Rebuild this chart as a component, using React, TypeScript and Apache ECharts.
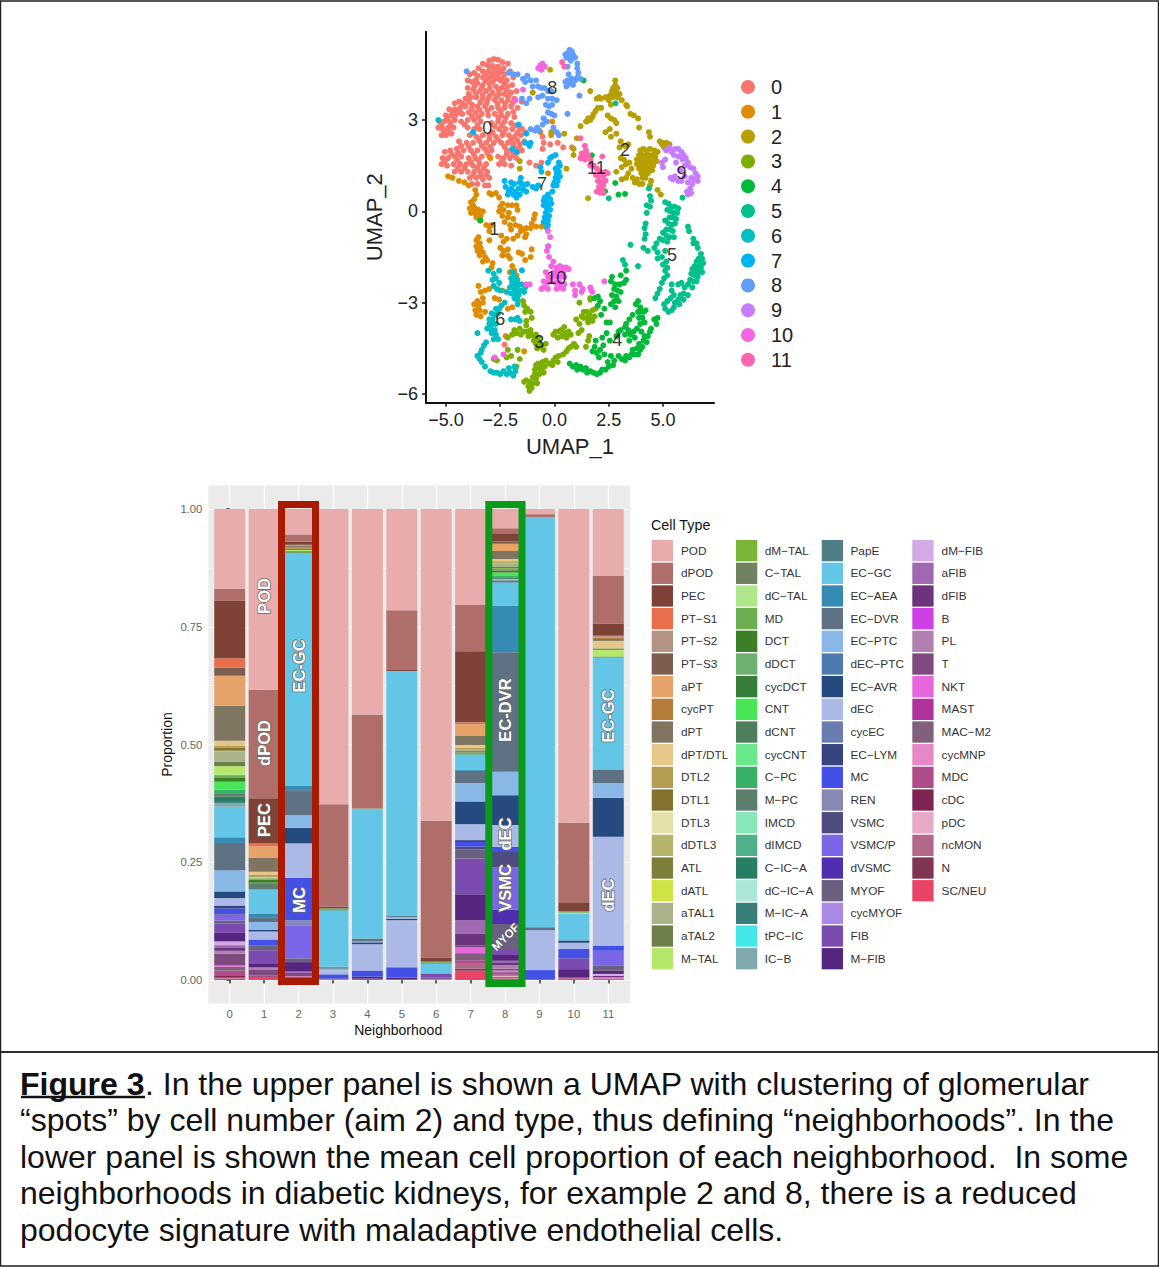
import React, { useEffect, useRef } from "react";
import * as echarts from "echarts";

const FONT = "Liberation Sans";

// ---------- UMAP clusters ----------
const clusterNames = ["0", "1", "2", "3", "4", "5", "6", "7", "8", "9", "10", "11"];
const clusterColors = ["#F8766D", "#DE8C00", "#B79F00", "#7CAE00", "#00BA38", "#00C08B", "#00BFC4", "#00B4F0", "#619CFF", "#C77CFF", "#F564E3", "#FF64B0"];

const c0 = [[-3.0,4.95],[-2.8,5.0],[-2.6,4.98],[-2.4,4.9],[-3.3,4.85],[-3.1,4.8],[-2.85,4.78],[-2.6,4.75],[-2.35,4.7],[-2.15,4.85],[-3.5,4.7],[-3.3,4.6],[-3.05,4.6],[-2.8,4.55],[-2.55,4.55],[-2.3,4.5],[-2.05,4.6],[-1.9,4.4],[-3.9,4.5],[-3.7,4.55],[-3.55,4.45],[-3.3,4.4],[-3.05,4.38],[-2.75,4.35],[-2.5,4.3],[-2.2,4.3],[-4.0,4.3],[-3.8,4.25],[-3.55,4.2],[-3.3,4.15],[-3.0,4.2],[-2.7,4.1],[-2.45,4.05],[-2.15,4.1],[-1.95,4.15],[-4.0,4.05],[-3.75,4.0],[-3.45,3.95],[-3.15,3.95],[-2.85,3.9],[-2.55,3.85],[-2.3,3.85],[-2.0,3.9],[-1.75,3.95],[-4.6,3.55],[-4.4,3.6],[-4.1,3.7],[-3.85,3.75],[-3.6,3.75],[-3.3,3.7],[-3.05,3.7],[-2.75,3.65],[-2.45,3.65],[-2.15,3.65],[-1.85,3.7],[-1.5,3.6],[-4.85,3.35],[-4.6,3.35],[-4.35,3.4],[-4.1,3.45],[-3.8,3.5],[-3.55,3.45],[-3.2,3.45],[-2.9,3.4],[-2.6,3.4],[-2.3,3.4],[-2.0,3.45],[-1.7,3.4],[-5.0,3.15],[-4.75,3.15],[-4.5,3.2],[-4.25,3.2],[-3.95,3.25],[-3.65,3.25],[-3.35,3.2],[-3.05,3.15],[-2.75,3.2],[-2.45,3.15],[-2.15,3.2],[-1.85,3.1],[-5.3,2.95],[-5.1,2.95],[-4.85,2.95],[-4.6,3.0],[-4.3,2.95],[-4.0,3.0],[-3.7,3.0],[-3.4,2.95],[-2.9,2.9],[-2.6,2.95],[-2.3,2.95],[-2.0,2.9],[-5.35,2.75],[-5.15,2.7],[-4.9,2.75],[-4.65,2.75],[-4.0,2.75],[-3.7,2.7],[-3.45,2.7],[-2.55,2.7],[-2.25,2.7],[-1.95,2.7],[-1.6,2.7],[-5.2,2.5],[-5.0,2.5],[-4.75,2.55],[-3.9,2.5],[-3.6,2.45],[-3.3,2.5],[-3.0,2.5],[-2.7,2.45],[-2.4,2.5],[-2.1,2.5],[-1.85,2.45],[-1.55,2.5],[-1.35,2.6],[-4.4,2.3],[-4.05,2.25],[-3.75,2.25],[-3.45,2.3],[-3.15,2.25],[-2.8,2.25],[-2.45,2.25],[-2.15,2.25],[-1.9,2.2],[-1.6,2.2],[-1.4,2.3],[-4.8,2.0],[-4.5,2.05],[-4.2,2.0],[-3.85,2.0],[-3.55,2.0],[-3.2,2.05],[-2.9,2.0],[-2.2,2.0],[-1.95,1.95],[-1.7,1.95],[-1.5,2.0],[-5.05,1.95],[-5.15,1.75],[-4.9,1.75],[-4.6,1.8],[-4.3,1.8],[-3.95,1.75],[-3.65,1.75],[-3.35,1.8],[-3.0,1.8],[-2.6,1.8],[-2.35,1.75],[-2.05,1.75],[-1.75,1.75],[-5.2,1.55],[-4.95,1.5],[-4.65,1.55],[-4.35,1.55],[-4.05,1.55],[-3.75,1.5],[-3.45,1.55],[-3.15,1.55],[-2.55,1.55],[-2.3,1.55],[-2.0,1.5],[-4.6,1.3],[-4.3,1.3],[-4.0,1.3],[-3.7,1.3],[-3.4,1.3],[-3.1,1.3],[-3.9,1.1],[-3.6,1.1],[-3.3,1.05],[-3.0,1.1],[-3.55,0.9],[-3.2,0.85],[-3.05,0.85],[-3.8,0.9],[-1.15,1.6],[-0.85,1.5],[-0.6,1.6],[-0.5,2.25],[-0.55,2.05],[-0.2,2.2],[-0.55,2.45],[0.15,2.25],[0.4,2.1],[0.8,2.1],[-2.3,-4.38],
[-2.95,4.7],[-2.7,4.65],[-2.45,4.62],[-3.2,4.5],[-2.92,4.45],[-2.62,4.42],[-2.38,4.38],[-3.62,4.32],[-3.18,4.28],[-2.85,4.25],[-2.32,4.18],[-3.68,4.1],[-3.35,4.05],[-2.98,4.05],[-2.58,3.98],[-2.22,3.98],[-3.95,3.85],[-3.62,3.87],[-3.3,3.82],[-2.98,3.8],[-2.68,3.77],[-2.12,3.78],[-4.25,3.55],[-3.95,3.6],[-3.42,3.58],[-3.12,3.55],[-2.62,3.52],[-2.28,3.53],[-1.92,3.57],[-4.7,3.25],[-4.38,3.3],[-3.82,3.37],[-3.45,3.33],[-3.08,3.3],[-2.48,3.28],[-1.9,3.27],[-4.95,3.05],[-4.62,3.08],[-3.8,3.12],[-3.5,3.1],[-2.58,3.07],[-2.25,3.07],[-5.2,2.83],[-4.78,2.85],[-4.15,2.85],[-3.55,2.83],[-2.75,2.8],[-2.42,2.82],[-1.8,2.82],[-5.08,2.6],[-4.88,2.63],[-3.75,2.58],[-2.85,2.6],[-2.35,2.6],[-1.72,2.58],[-1.5,2.72],[-3.5,2.38],[-3.0,2.38],[-2.6,2.35],[-2.0,2.35],[-1.72,2.32],[-4.3,2.15],[-3.95,2.12],[-3.35,2.15],[-2.95,2.12],[-2.3,2.12],[-1.8,2.08],[-1.6,2.08],[-4.75,1.88],[-4.45,1.92],[-3.72,1.88],[-3.1,1.92],[-2.2,1.88],[-1.88,1.85],[-5.05,1.65],[-4.48,1.68],[-3.85,1.62],[-3.5,1.67],[-2.42,1.65],[-4.45,1.42],[-4.15,1.42],[-3.55,1.42],[-3.25,1.42],[-3.75,1.18],[-3.42,1.18],[-3.15,1.2]];
const c1 = [[-4.9,1.15],[-4.7,1.1],[-4.4,1.0],[-4.15,0.95],[-3.95,0.85],[-3.65,0.7],[-3.6,0.55],[-3.7,0.4],[-3.85,0.3],[-3.75,0.2],[-3.9,0.1],[-3.8,0.05],[-3.65,0.1],[-3.5,0.05],[-3.7,-0.05],[-3.85,-0.05],[-3.55,-0.1],[-3.4,-0.15],[-3.6,-0.2],[-3.3,0],[-3.4,-0.3],[-3.15,-0.45],[-3.0,0.6],[-2.9,0.55],[-2.7,0.6],[-2.55,0.45],[-2.4,0.25],[-2.5,0.15],[-2.35,0.05],[-2.15,0.2],[-1.95,0.2],[-1.75,0.2],[-1.7,0.05],[-2.55,0],[-2.1,-0.05],[-2.4,-0.15],[-2.15,-0.2],[-1.9,-0.25],[-2.3,-0.35],[-2.05,-0.45],[-1.8,-0.45],[-1.6,-0.5],[-2.0,-0.6],[-0.9,-0.1],[-0.95,-0.25],[-1.05,-0.4],[-0.85,-0.5],[-1.1,-0.55],[-0.6,-0.5],[-0.5,-0.45],[-1.3,-0.55],[-1.45,-0.6],[-1.55,-0.65],[-1.3,-0.75],[-1.7,-0.8],[-1.35,-0.85],[-3.0,-0.5],[-3.0,-0.65],[-2.9,-0.45],[-2.2,-0.9],[-2.45,-0.8],[-2.35,-1.0],[-1.9,-0.9],[-3.5,-0.85],[-3.6,-0.95],[-3.45,-1.05],[-3.6,-1.15],[-3.4,-1.2],[-3.55,-1.3],[-3.3,-1.35],[-3.45,-1.45],[-3.2,-1.5],[-3.1,-1.6],[-3.3,-1.65],[-2.85,-1.7],[-2.9,-1.85],[-3.0,-0.95],[-2.5,-1.2],[-2.35,-1.3],[-2.15,-1.25],[-2.4,-1.45],[-2.15,-1.45],[-2.05,-1.55],[-1.65,-1.35],[-1.5,-1.4],[-1.05,-1.25],[-1.1,-1.5],[-1.35,-1.6],[-1.95,-1.8],[-1.85,-1.95],[-2.05,-2.0],[-1.75,-2.1],[-1.7,-2.25],[-3.5,-2.45],[-3.4,-2.65],[-3.2,-2.6],[-3.0,-2.55],[-3.3,-2.85],[-3.55,-2.95],[-3.7,-3.05],[-3.5,-3.1],[-3.65,-3.25],[-3.45,-3.25],[-3.6,-3.4],[-3.4,-3.45],[-3.2,-3.3],[-3.3,-3.0],[-2.55,-2.9],[-2.4,-2.6],[-1.95,-3.15],[-2.15,-3.2],[-2.75,-2.85],[-2.25,-4.1],[-1.4,-4.6],[0.7,5.03],[-0.15,2.5],[-0.1,2.95],[-0.3,1.25],[-2.95,1.75],[-0.65,2.6]];
const c2 = [[2.8,4.3],[2.8,4.15],[2.7,4.05],[2.9,4.05],[2.75,3.9],[2.65,3.95],[2.85,3.9],[3.0,3.85],[2.55,3.8],[2.7,3.75],[2.9,3.75],[2.35,3.75],[2.15,3.7],[2.05,3.75],[1.95,3.7],[2.5,3.65],[3.1,3.65],[3.3,3.5],[3.35,3.45],[2.6,3.5],[1.65,3.95],[2.15,3.4],[2.0,3.4],[1.9,3.3],[1.8,3.2],[1.75,3.1],[1.6,3.05],[1.65,3.0],[1.5,2.95],[1.55,3.05],[1.2,2.8],[1.45,2.95],[0.45,2.55],[1.03,2.4],[0.88,2.05],[0.88,1.85],[0.55,1.4],[3.5,3.2],[3.85,3.05],[3.65,3.15],[3.9,2.75],[4.35,2.6],[4.4,2.45],[2.45,3.15],[2.6,3.05],[2.75,3.0],[2.85,2.9],[2.55,2.7],[2.35,2.6],[2.6,2.45],[3.05,2.3],[2.85,2.55],[3.25,2.15],[3.4,2.2],[3.0,2.1],[4.85,2.3],[5.0,2.25],[5.15,2.25],[5.3,2.2],[5.05,2.1],[4.95,2.2],[3.95,2.0],[4.1,2.05],[4.25,2.0],[4.4,2.05],[4.6,2.0],[4.75,1.95],[3.9,1.85],[4.05,1.85],[4.2,1.85],[4.35,1.85],[4.5,1.85],[4.65,1.8],[3.8,1.7],[3.95,1.7],[4.1,1.7],[4.25,1.7],[4.4,1.7],[4.55,1.65],[4.7,1.65],[3.8,1.55],[3.95,1.55],[4.1,1.55],[4.25,1.55],[4.4,1.55],[4.55,1.5],[3.9,1.4],[4.05,1.4],[4.2,1.4],[4.35,1.4],[4.5,1.35],[4.0,1.25],[4.15,1.25],[4.3,1.25],[4.05,1.1],[4.2,1.1],[2.85,1.3],[3.1,1.45],[3.05,1.75],[3.2,1.7],[3.3,1.55],[3.45,1.6],[3.55,1.4],[3.4,1.25],[3.1,1.05],[3.3,1.1],[3.6,1.1],[3.8,1.05],[3.9,0.9],[4.05,0.9],[4.4,0.85],[4.45,1.0],[3.7,0.95],[4.75,0.7],[4.9,0.55],[1.55,0.43],[-0.15,2.6],[-1.0,3.9],[-0.2,4.65],[-1.6,1.4],[-1.6,1.65]];
const c3 = [[-1.45,-2.95],[-1.4,-3.1],[-1.25,-3.2],[-1.35,-3.3],[-1.1,-3.3],[-1.05,-3.5],[-1.3,-3.6],[-2.15,-4.15],[-1.95,-4.05],[-1.75,-4.0],[-1.85,-3.9],[-1.6,-3.85],[-1.55,-4.05],[-1.4,-3.95],[-1.3,-3.75],[-1.25,-3.95],[-1.1,-3.9],[-1.05,-4.05],[-1.2,-4.1],[-0.95,-4.1],[-0.85,-4.05],[-0.75,-4.15],[-0.95,-4.25],[-0.7,-4.3],[-0.85,-4.35],[-0.6,-4.45],[-0.4,-4.35],[-0.8,-4.5],[-0.5,-4.55],[0.3,-3.9],[0.45,-3.8],[0.2,-3.95],[0.05,-3.95],[-0.05,-4.05],[0.5,-4.0],[0.65,-3.95],[0.35,-4.1],[0.55,-4.15],[0.15,-4.15],[0.75,-4.05],[0.9,-4.35],[0.75,-4.45],[0.65,-4.5],[1.0,-4.45],[0.55,-4.6],[0.4,-4.7],[0.2,-4.75],[0.05,-4.8],[-0.05,-4.9],[0.15,-4.95],[-0.1,-5.05],[-0.25,-5.0],[-0.4,-4.9],[-0.45,-5.1],[-0.55,-4.95],[-0.65,-5.05],[-0.75,-5.0],[-0.85,-5.05],[-0.6,-5.2],[-0.75,-5.15],[-0.9,-5.2],[-0.5,-5.3],[-0.7,-5.35],[-0.9,-5.35],[-1.0,-5.45],[-0.85,-5.5],[-0.8,-5.65],[-1.0,-5.65],[-1.15,-5.6],[-1.3,-5.55],[-1.05,-5.8],[-1.2,-5.75],[-1.4,-5.6],[-1.15,-5.9],[1.15,-3.7],[1.0,-3.55],[1.25,-3.45],[1.35,-3.3],[1.5,-3.3],[1.6,-3.4],[1.35,-3.5],[1.5,-3.5],[1.65,-3.55],[1.75,-3.6],[1.55,-3.65],[1.75,-3.25],[1.9,-3.2],[1.85,-3.45],[1.65,-2.9],[1.65,-2.85],[1.15,-3.0],[1.25,-3.9],[1.1,-4.0],[1.6,-4.1],[1.55,-4.25],[1.45,-4.45],[-2.2,-4.8],[-2.0,-4.75],[-2.15,-4.55],[-1.7,-4.55],[-1.6,-4.85],[-2.8,-4.85],[-2.65,-4.9],[-1.75,-5.1]];
const c4 = [[0.7,-5.0],[0.85,-5.1],[1.0,-5.05],[1.05,-5.2],[1.2,-5.1],[1.3,-5.2],[1.45,-5.15],[1.5,-5.3],[1.65,-5.25],[1.8,-5.3],[1.95,-5.35],[2.1,-5.3],[2.2,-5.2],[2.35,-5.2],[2.5,-5.1],[2.45,-4.95],[2.7,-5.05],[2.75,-4.9],[2.6,-4.75],[2.95,-4.75],[3.1,-4.85],[3.25,-4.9],[3.3,-4.75],[3.45,-4.8],[3.55,-4.7],[3.7,-4.7],[3.85,-4.7],[3.6,-4.55],[3.8,-4.5],[3.95,-4.55],[4.05,-4.45],[3.9,-4.35],[4.1,-4.25],[4.25,-4.3],[4.15,-4.1],[4.3,-4.1],[4.4,-3.95],[4.45,-3.85],[4.6,-3.55],[4.75,-3.5],[4.7,-3.7],[1.75,-4.6],[1.85,-4.45],[1.9,-4.25],[1.95,-4.65],[2.1,-4.55],[2.05,-4.8],[2.25,-4.4],[2.2,-4.15],[2.4,-4.0],[2.55,-4.25],[2.3,-4.7],[2.85,-4.1],[2.95,-3.95],[3.05,-3.9],[3.25,-3.8],[3.4,-3.9],[3.25,-4.05],[3.5,-4.05],[3.65,-3.95],[3.45,-4.25],[3.7,-4.15],[3.8,-3.85],[4.0,-3.95],[3.95,-3.7],[4.15,-3.65],[4.05,-3.5],[3.9,-3.5],[3.85,-3.3],[3.95,-3.15],[3.75,-3.05],[3.85,-2.95],[3.95,-3.3],[4.1,-3.3],[4.2,-3.25],[3.6,-3.4],[3.45,-3.55],[3.3,-3.7],[2.4,-3.65],[2.55,-3.65],[2.3,-3.2],[2.15,-3.4],[2.6,-2.3],[2.8,-2.4],[3.0,-2.4],[3.2,-2.35],[3.3,-2.25],[2.75,-2.55],[2.9,-2.6],[3.05,-2.65],[2.65,-2.75],[2.85,-2.8],[2.95,-2.95],[2.75,-2.95],[2.6,-3.05],[2.8,-3.15],[2.65,-2.15],[3.05,-2.1],[3.3,-1.95],[2.0,-2.8],[1.85,-2.85],[2.1,-2.95],[2.0,-3.1],[1.34,4.3],[2.8,0.93],[2.95,0.55],[3.25,0.57],[1.72,1.84],[2.33,0.66],[-3.43,-0.3]];
const c5 = [[4.35,0.75],[4.4,0.5],[4.45,0.35],[4.25,0.2],[4.4,0.15],[4.25,-0.05],[4.2,-0.4],[4.15,-0.55],[4.2,-0.75],[4.15,-0.9],[5.1,0.3],[5.25,0.25],[5.4,0.15],[5.55,0.15],[5.7,0.1],[5.9,0.45],[5.2,0.05],[5.35,0.0],[5.5,-0.05],[5.65,-0.05],[5.3,-0.2],[5.45,-0.2],[5.6,-0.25],[5.1,-0.3],[5.25,-0.4],[5.4,-0.45],[5.55,-0.4],[5.15,-0.6],[5.3,-0.6],[5.45,-0.65],[5.0,-0.7],[5.15,-0.8],[5.3,-0.85],[4.85,-0.9],[5.0,-0.95],[5.5,-0.85],[4.7,-1.05],[5.2,-1.0],[6.15,-0.5],[6.2,-0.65],[6.4,-0.9],[6.55,-1.05],[6.4,-1.05],[6.6,-1.2],[6.75,-1.4],[6.65,-1.55],[6.8,-1.55],[6.55,-1.65],[6.7,-1.7],[6.85,-1.7],[6.45,-1.8],[6.6,-1.85],[6.75,-1.85],[6.35,-1.9],[6.5,-1.95],[6.65,-2.0],[6.8,-2.0],[6.3,-2.05],[6.45,-2.1],[6.6,-2.15],[6.25,-2.25],[6.4,-2.3],[6.55,-2.3],[6.15,-2.4],[6.35,-2.5],[6.0,-2.5],[5.95,-2.7],[6.15,-2.75],[5.8,-2.75],[5.95,-2.9],[5.7,-2.9],[5.75,-3.05],[5.55,-3.0],[5.5,-3.15],[5.4,-3.25],[5.25,-3.3],[5.1,-3.2],[5.2,-2.95],[5.05,-3.05],[5.35,-2.85],[5.5,-2.75],[4.1,-1.2],[4.3,-1.3],[4.6,-1.2],[4.75,-1.35],[4.75,-1.55],[4.95,-1.5],[5.1,-1.3],[5.0,-1.75],[5.15,-1.65],[5.2,-1.85],[5.1,-1.95],[5.2,-2.1],[5.05,-2.2],[4.95,-2.35],[4.85,-2.55],[4.75,-2.7],[4.65,-2.85],[5.4,-2.4],[5.7,-2.4],[5.85,-2.35],[5.4,-2.6],[3.5,-1.1],[3.15,-1.6],[3.25,-1.75],[3.85,-1.8],[2.5,0.43],[2.82,3.55]];
const c6 = [[-2.85,-2.25],[-2.7,-2.2],[-2.55,-2.35],[-2.8,-2.45],[-2.65,-2.55],[-2.5,-2.6],[-1.95,-2.0],[-1.85,-2.1],[-2.0,-2.2],[-1.75,-2.25],[-1.95,-2.35],[-1.8,-2.4],[-1.65,-2.4],[-1.5,-2.4],[-1.35,-2.5],[-2.05,-2.5],[-1.85,-2.55],[-1.7,-2.55],[-1.55,-2.6],[-1.4,-2.65],[-2.2,-2.65],[-2.0,-2.7],[-1.8,-2.7],[-1.65,-2.75],[-1.85,-2.85],[-1.7,-2.9],[-1.7,-3.05],[-2.55,-1.95],[-3.05,-1.95],[-2.8,-2.05],[-2.3,-3.0],[-2.45,-3.1],[-2.55,-3.2],[-2.7,-3.2],[-2.6,-3.35],[-2.75,-3.4],[-2.9,-3.35],[-2.85,-3.55],[-3.0,-3.55],[-3.0,-3.7],[-2.85,-3.7],[-2.7,-3.7],[-3.1,-3.85],[-2.95,-3.85],[-2.75,-3.9],[-2.9,-4.0],[-2.7,-4.05],[-2.8,-4.2],[-2.6,-4.2],[-3.55,-4.0],[-1.7,-3.5],[-1.8,-3.55],[-1.6,-3.6],[-2.0,-3.55],[-3.15,-4.3],[-3.25,-4.4],[-3.35,-4.55],[-3.4,-4.65],[-3.55,-4.75],[-3.45,-4.85],[-3.35,-4.95],[-3.2,-5.1],[-2.95,-5.25],[-2.8,-5.3],[-2.65,-5.3],[-2.5,-5.35],[-2.35,-5.25],[-2.2,-5.35],[-2.05,-5.3],[-1.9,-5.4],[-1.8,-5.25],[-2.1,-5.15],[-1.85,-5.1],[-5.35,3.0]];
const c7 = [[-2.25,0.8],[-2.3,1.0],[-2.15,0.55],[-2.0,0.95],[-2.0,0.75],[-1.9,0.55],[-1.85,0.9],[-1.8,0.65],[-1.75,0.45],[-1.65,0.75],[-1.6,0.55],[-1.55,1.1],[-1.5,0.9],[-1.45,0.7],[-1.4,0.85],[-1.3,0.65],[-1.25,0.9],[-1.6,0.95],[-2.1,0.65],[-1.0,0.8],[-0.85,0.75],[-0.75,0.85],[0.2,1.6],[0.25,1.5],[0.15,1.45],[0.05,1.4],[0.2,1.3],[0.1,1.25],[0.25,1.15],[0.05,1.1],[0.15,1.0],[0.0,0.95],[-0.05,0.85],[0.1,0.85],[-0.1,0.65],[-0.3,0.55],[-0.45,0.45],[-0.5,0.35],[-0.35,0.35],[-0.2,0.4],[-0.3,0.2],[-0.5,0.2],[-0.15,0.25],[-0.35,0.1],[-0.2,0.05],[-0.4,-0.05],[-0.25,-0.15],[-0.3,-0.3],[-0.45,-0.2],[-0.5,-0.35],[-0.3,-0.45],[-0.35,-0.55],[0.05,1.85],[-0.1,1.8],[-0.2,1.75],[-0.3,1.6],[-0.65,1.45],[-0.6,1.3],[-1.35,2.25],[-1.15,2.15],[-1.1,2.25],[-1.95,2.05],[-1.75,1.95],[-3.75,2.6],[-1.3,2.55],[-1.65,2.85],[-1.5,-1.94],[-0.28,-1.15]];
const c8 = [[0.5,5.15],[0.6,5.2],[0.7,5.3],[0.8,5.25],[0.85,5.15],[0.65,5.05],[0.55,5.05],[0.8,5.05],[0.95,5.05],[0.75,4.95],[1.05,4.85],[1.05,4.7],[1.1,4.55],[0.6,4.75],[0.65,4.5],[1.05,4.4],[0.95,4.3],[1.2,4.35],[0.8,4.35],[0.6,4.3],[0.5,4.25],[0.7,4.2],[0.85,4.15],[0.55,4.1],[-2.1,4.55],[-1.9,4.5],[-1.7,4.5],[-1.45,4.35],[-1.25,4.45],[-1.35,4.25],[-1.1,4.3],[-1.0,4.1],[-0.85,4.3],[-0.75,4.1],[-0.6,4.05],[-0.45,4.05],[-0.3,3.95],[-0.15,3.95],[-0.75,3.75],[-0.55,3.8],[-0.3,3.7],[-0.1,3.7],[0.1,3.65],[-0.4,3.5],[-0.25,3.45],[-0.1,3.5],[-0.3,3.25],[-0.15,3.2],[0.0,3.15],[-0.5,3.05],[-0.35,2.95],[-0.55,2.85],[-0.8,2.75],[-0.9,2.65],[-1.1,2.7],[-0.7,2.65],[-0.05,2.75],[0.1,2.6],[0.2,2.5],[-1.5,3.7],[-1.15,3.7],[-1.3,3.55],[0.6,3.2],[1.15,3.8],[-4.05,4.6]];
const c9 = [[5.15,2.0],[5.3,2.1],[5.4,1.95],[5.55,2.05],[5.7,2.05],[5.85,1.95],[5.95,1.85],[5.5,1.85],[5.7,1.8],[5.9,1.7],[6.05,1.75],[6.15,1.6],[6.0,1.5],[6.25,1.45],[6.4,1.4],[6.5,1.25],[6.6,1.15],[6.45,1.05],[6.6,1.0],[6.3,1.1],[6.35,0.9],[6.15,0.95],[6.25,0.75],[6.1,0.65],[6.3,0.6],[6.15,0.55],[4.95,1.6],[5.0,1.45],[5.1,1.7],[5.55,1.15],[5.45,1.05],[5.7,1.0],[5.85,1.0],[6.0,1.15],[5.6,1.6],[5.8,1.35],[5.35,1.1]];
const c10 = [[-0.3,-0.65],[-0.2,-0.85],[-0.3,-1.15],[-0.35,-1.3],[-0.25,-1.5],[-0.05,-1.65],[-0.15,-1.8],[0.1,-1.85],[0.25,-1.8],[0.4,-1.85],[0.55,-1.85],[0.65,-1.9],[0.0,-2.0],[0.2,-1.95],[0.4,-2.0],[-0.4,-2.0],[-0.3,-2.15],[-0.1,-2.15],[0.1,-2.15],[0.3,-2.15],[0.45,-2.15],[-0.5,-2.3],[-0.35,-2.35],[-0.2,-2.3],[0.05,-2.35],[0.25,-2.35],[0.45,-2.4],[-0.5,-2.5],[-0.3,-2.55],[0.1,-2.55],[0.25,-2.5],[0.4,-2.55],[-1.15,-2.4],[-1.3,-2.4],[-0.6,-2.55],[0.85,-2.4],[1.15,-2.4],[0.95,-2.6],[1.25,-2.65],[1.3,-2.55],[1.65,-2.5],[1.7,-2.6],[1.75,-2.65],[2.3,-2.3],[0.95,-2.75],[-2.75,-4.8],[-2.35,-4.7],[-1.45,4.0],[-1.8,3.65],[-0.75,4.7],[-0.65,4.8],[-0.55,4.85],[-0.45,4.75],[-0.6,4.65]];
const c11 = [[1.4,2.15],[1.45,2.0],[1.25,1.9],[1.35,1.85],[1.55,1.85],[1.2,1.75],[1.4,1.7],[1.65,1.7],[2.2,1.8],[1.65,1.5],[1.8,1.5],[1.95,1.4],[2.1,1.3],[2.35,1.3],[2.45,1.25],[1.9,1.2],[2.05,1.15],[2.25,1.15],[2.35,1.0],[2.0,1.0],[2.15,0.95],[2.25,0.85],[2.05,0.8],[2.2,0.7],[2.1,0.62],[2.25,0.6],[1.95,0.65],[0.35,4.9],[0.45,4.75],[1.2,2.4]];
const clusters = [c0, c1, c2, c3, c4, c5, c6, c7, c8, c9, c10, c11];

const clusterLabelPoints = [
  { name: "0", value: [-3.1, 2.75] }, { name: "8", value: [-0.1, 4.06] }, { name: "2", value: [3.25, 2.0] },
  { name: "11", value: [1.93, 1.43] }, { name: "9", value: [5.85, 1.27] }, { name: "7", value: [-0.57, 0.9] },
  { name: "1", value: [-2.78, -0.57] }, { name: "5", value: [5.42, -1.42] }, { name: "10", value: [0.08, -2.18] },
  { name: "6", value: [-2.5, -3.55] }, { name: "3", value: [-0.7, -4.28] }, { name: "4", value: [2.89, -4.22] },
];

// ---------- Cell types ----------
const legendCol1 = ["POD","dPOD","PEC","PT-S1","PT-S2","PT-S3","aPT","cycPT","dPT","dPT/DTL","DTL2","DTL1","DTL3","dDTL3","ATL","dATL","aTAL1","aTAL2","M-TAL"];
const legendCol2 = ["dM-TAL","C-TAL","dC-TAL","MD","DCT","dDCT","cycDCT","CNT","dCNT","cycCNT","C-PC","M-PC","IMCD","dIMCD","C-IC-A","dC-IC-A","M-IC-A","tPC-IC","IC-B"];
const legendCol3 = ["PapE","EC-GC","EC-AEA","EC-DVR","EC-PTC","dEC-PTC","EC-AVR","dEC","cycEC","EC-LYM","MC","REN","VSMC","VSMC/P","dVSMC","MYOF","cycMYOF","FIB","M-FIB"];
const legendCol4 = ["dM-FIB","aFIB","dFIB","B","PL","T","NKT","MAST","MAC-M2","cycMNP","MDC","cDC","pDC","ncMON","N","SC/NEU"];
const cellTypes = [...legendCol1, ...legendCol2, ...legendCol3, ...legendCol4];
const cellColors = ["#E8ACAC","#B06E6A","#7E4237","#E96E4B","#B39483","#7D5E4E","#E7A26A","#B57B38","#7F7560","#E6C788","#B49D52","#84732C","#E6E0AC","#B6B46B","#7E8039","#CFE344","#AAB389","#6E8049","#B5E768",
  "#7AB535","#71825F","#ADE789","#6DAF50","#3D7F26","#6EB06E","#357D38","#48E657","#4C7F5B","#69E88C","#37B068","#5F7F6E","#89E6B8","#50B08C","#267F62","#ABE6D6","#377F78","#42E6E6","#80A9AE",
  "#4D7F84","#64C6E6","#358BB3","#5E7283","#8AB8E6","#4D7BB0","#254A80","#AAB9E6","#6A7CB0","#38447F","#4350E6","#8788B4","#4F4C80","#7A66E6","#4F2FB0","#6A6080","#AB88E6","#7C4BB0","#552580",
  "#D2AAE6","#9F69B0","#6C347F","#CC40E6","#AF80B0","#7E4A7F","#E666DC","#B0339D","#80607A","#E688C8","#B04C8C","#7F2352","#E6A9C8","#B26888","#7F3450","#E84468"];

// ---------- Mean proportion per neighborhood ----------
const neighborhoods = ["0","1","2","3","4","5","6","7","8","9","10","11"];
const n0: Record<string, number> = { POD:.169,dPOD:.026,PEC:.122,"PT-S1":.02,"PT-S3":.017,aPT:.064,dPT:.074,"dPT/DTL":.011,DTL2:.004,DTL1:.006,dDTL3:.002,aTAL1:.022,"M-TAL":.015,aTAL2:.009,"dC-TAL":.004,MD:.006,DCT:.008,CNT:.017,"C-PC":.009,"M-PC":.006,"C-IC-A":.009,"M-IC-A":.004,"IC-B":.008,"EC-GC":.065,"EC-AEA":.012,"EC-DVR":.058,"EC-PTC":.045,"EC-AVR":.014,dEC:.016,"EC-LYM":.006,MC:.01,VSMC:.003,"VSMC/P":.013,MYOF:.006,FIB:.02,"M-FIB":.018,"dM-FIB":.008,aFIB:.006,PL:.006,dFIB:.006,T:.025,NKT:.003,"MAC-M2":.008,MDC:.01,cDC:.005,ncMON:.002,"SC/NEU":.003 };
const n1: Record<string, number> = { POD:.384,dPOD:.23,PEC:.096,"PT-S1":.006,aPT:.024,dPT:.03,"dPT/DTL":.007,DTL2:.003,DTL1:.002,DTL3:.002,MD:.003,DCT:.006,cycDCT:.002,"M-PC":.013,"EC-GC":.052,"EC-AEA":.007,"EC-DVR":.01,"EC-PTC":.017,"EC-AVR":.003,dEC:.017,MC:.012,MYOF:.011,FIB:.029,"M-FIB":.007,aFIB:.003,PL:.003,T:.011,MDC:.002,cDC:.002,N:.001,"SC/NEU":.005 };
const n2: Record<string, number> = { POD:.054,dPOD:.015,PEC:.007,"PT-S2":.002,dPT:.004,DTL2:.003,aTAL2:.002,"M-TAL":.002,MD:.003,DCT:.002,CNT:.001,"EC-GC":.493,"EC-AEA":.009,"EC-DVR":.053,"EC-PTC":.027,"EC-AVR":.033,dEC:.073,MC:.09,REN:.012,"VSMC/P":.069,MYOF:.008,"M-FIB":.02,aFIB:.003,T:.007,NKT:.001,MDC:.004,"SC/NEU":.003 };
const n3: Record<string, number> = { POD:.627,dPOD:.217,PEC:.004,MD:.002,DCT:.002,"EC-GC":.12,"EC-AEA":.002,"EC-DVR":.002,"EC-PTC":.004,dEC:.008,MC:.009,"M-FIB":.001,MDC:.001,"SC/NEU":.001 };
const n4: Record<string, number> = { POD:.437,dPOD:.199,MD:.002,"EC-GC":.274,"EC-DVR":.006,"EC-PTC":.002,"EC-AVR":.004,dEC:.056,MC:.013,"M-FIB":.003,T:.002,MDC:.002 };
const n5: Record<string, number> = { POD:.215,dPOD:.127,PEC:.002,"EC-GC":.519,"EC-DVR":.003,"EC-PTC":.004,"EC-AVR":.003,dEC:.1,MC:.022,"M-FIB":.003,MDC:.002 };
const n6: Record<string, number> = { POD:.662,dPOD:.29,PEC:.009,MD:.002,DCT:.002,"EC-GC":.021,FIB:.009,"M-FIB":.002,MDC:.002,"SC/NEU":.001 };
const n7: Record<string, number> = { POD:.204,dPOD:.098,PEC:.151,"PT-S1":.004,aPT:.025,dPT:.019,"dPT/DTL":.006,DTL2:.003,aTAL1:.004,aTAL2:.003,MD:.002,DCT:.002,"EC-GC":.033,"EC-AEA":.002,"EC-DVR":.026,"EC-PTC":.039,"EC-AVR":.048,dEC:.034,"EC-LYM":.004,MC:.01,VSMC:.006,MYOF:.019,FIB:.076,"M-FIB":.055,aFIB:.028,dFIB:.025,T:.005,NKT:.012,"MAC-M2":.015,MDC:.006,ncMON:.012,N:.004,"SC/NEU":.02 };
const n8: Record<string, number> = { POD:.041,dPOD:.012,PEC:.016,"PT-S3":.005,aPT:.015,dPT:.017,"dPT/DTL":.005,DTL1:.001,dDTL3:.003,aTAL1:.008,aTAL2:.003,"dM-TAL":.002,"C-TAL":.003,DCT:.004,CNT:.007,"C-PC":.003,"M-PC":.004,IMCD:.001,"IC-B":.003,PapE:.003,"EC-GC":.049,"EC-AEA":.099,"EC-DVR":.254,"EC-PTC":.05,"EC-AVR":.063,dEC:.046,MC:.011,VSMC:.033,"VSMC/P":.09,dVSMC:.03,MYOF:.053,FIB:.013,"M-FIB":.012,aFIB:.005,PL:.008,dFIB:.004,T:.004,NKT:.002,MAST:.002,"MAC-M2":.004,MDC:.003,pDC:.002,ncMON:.004,"SC/NEU":.003 };
const n9: Record<string, number> = { POD:.011,dPOD:.006,"EC-GC":.871,"EC-DVR":.006,dEC:.085,MC:.02,"M-FIB":.001 };
const n10: Record<string, number> = { POD:.666,dPOD:.169,PEC:.019,MD:.003,IMCD:.002,"EC-GC":.057,"EC-AVR":.005,dEC:.013,MC:.02,FIB:.023,"M-FIB":.018,MDC:.002,"SC/NEU":.003 };
const n11: Record<string, number> = { POD:.142,dPOD:.101,PEC:.026,"PT-S2":.004,cycPT:.003,dPT:.004,"dPT/DTL":.016,"M-TAL":.014,aTAL2:.003,MD:.003,"EC-GC":.238,"EC-DVR":.028,"EC-PTC":.031,"EC-AVR":.083,dEC:.231,MC:.011,"VSMC/P":.032,MYOF:.01,"M-FIB":.007,"dM-FIB":.004,dFIB:.003,NKT:.003,ncMON:.003 };
const proportions = [n0, n1, n2, n3, n4, n5, n6, n7, n8, n9, n10, n11];

const propTicks = [0, 0.25, 0.5, 0.75, 1];
const propMinor = [0.125, 0.375, 0.625, 0.875];
const umapXTicks = [-5, -2.5, 0, 2.5, 5];
const umapYTicks = [-6, -3, 0, 3];
const neighborTicks = [0, 1, 2, 3, 4, 5, 6, 7, 8, 9, 10, 11];

const captionLines = [
  { text: ". In the upper panel is shown a UMAP with clustering of glomerular", x: 145, y: 1084 },
  { text: "\u201Cspots\u201D by cell number (aim 2) and type, thus defining \u201Cneighborhoods\u201D. In the", x: 20, y: 1120 },
  { text: "lower panel is shown the mean cell proportion of each neighborhood.  In some", x: 20, y: 1157 },
  { text: "neighborhoods in diabetic kidneys, for example 2 and 8, there is a reduced", x: 20, y: 1193 },
  { text: "podocyte signature with maladaptive endothelial cells.", x: 20, y: 1230 },
];

const barLabels = [
  { text: "POD", x: 264, y: 596 }, { text: "dPOD", x: 264, y: 743 }, { text: "PEC", x: 264, y: 820 },
  { text: "EC-GC", x: 299, y: 666 }, { text: "MC", x: 299, y: 900 }, { text: "EC-DVR", x: 505, y: 710 },
  { text: "dEC", x: 505, y: 834 }, { text: "VSMC", x: 505, y: 888 }, { text: "EC-GC", x: 608, y: 716 }, { text: "dEC", x: 608, y: 895 },
];

function cellLegend(data: string[], left: number, textGap: number) {
  return {
    type: "plain", data, left, top: 540, orient: "vertical", height: 460,
    itemWidth: 21.3, itemHeight: 21.3, itemGap: 1.37, icon: "rect", selectedMode: false, padding: 0,
    formatter: (n: string) => n.replace(/-/g, "\u2212"),
    textStyle: { fontFamily: FONT, fontSize: 11.8, color: "#333", padding: [0, 0, 0, textGap] },
  };
}

function buildOption() {
  const scatterSeries = clusters.map((pts, i) => ({
    type: "scatter", name: clusterNames[i], xAxisIndex: 0, yAxisIndex: 0, data: pts,
    symbolSize: 6, itemStyle: { color: clusterColors[i], opacity: 1 }, z: 3,
  }));
  const barSeries = cellTypes.map((name, i) => ({ name, i })).reverse().map(({ name, i }) => ({
    type: "bar", name, stack: "cells", xAxisIndex: 2, yAxisIndex: 3,
    data: proportions.map((p) => p[name] ?? null), barWidth: "90%",
    itemStyle: { color: cellColors[i] }, z: 2,
  }));
  const graphics: any[] = [
    { type: "rect", shape: { x: 0.5, y: 1, width: 1158, height: 1051 }, style: { fill: "none", stroke: "#222", lineWidth: 1.5 } },
    { type: "rect", shape: { x: 0.5, y: 1052, width: 1158, height: 214 }, style: { fill: "none", stroke: "#222", lineWidth: 1.5 } },
    { type: "rect", z: 50, shape: { x: 281.5, y: 504.5, width: 34, height: 477 }, style: { fill: "none", stroke: "#A91B00", lineWidth: 7 } },
    { type: "rect", z: 50, shape: { x: 488.8, y: 504.5, width: 33.2, height: 479 }, style: { fill: "none", stroke: "#0A9A1A", lineWidth: 7 } },
    { type: "text", x: 651, y: 525, style: { text: "Cell Type", fontFamily: FONT, fontSize: 14.3, fill: "#111", verticalAlign: "middle" } },
    { type: "text", x: 20, y: 1084, style: { text: "Figure 3", fontFamily: FONT, fontSize: 32, fontWeight: "bold", fill: "#111", verticalAlign: "middle" } },
    { type: "line", shape: { x1: 21, y1: 1097, x2: 145, y2: 1097 }, style: { stroke: "#111", lineWidth: 2.5 } },
    ...captionLines.map((l) => ({ type: "text", x: l.x, y: l.y, style: { text: l.text, fontFamily: FONT, fontSize: 32, fill: "#111", verticalAlign: "middle" } })),
    ...barLabels.map((l) => ({
      type: "text", x: l.x, y: l.y, rotation: Math.PI / 2, z: 60,
      style: { text: l.text, fontFamily: FONT, fontSize: 16.5, fontWeight: "bold", fill: "#fff", stroke: "#666", lineWidth: 1.5, align: "center", verticalAlign: "middle" },
    })),
    { type: "text", x: 505.5, y: 937, rotation: Math.PI / 4, z: 60, style: { text: "MYOF", fontFamily: FONT, fontSize: 11.5, fontWeight: "bold", fill: "#fff", stroke: "#555", lineWidth: 1.2, align: "center", verticalAlign: "middle" } },
  ];
  return {
    animation: false,
    backgroundColor: "#fff",
    textStyle: { fontFamily: FONT },
    graphic: { elements: graphics },
    legend: [
      { type: "plain", data: clusterNames, left: 741, top: 77, orient: "vertical", itemWidth: 36, itemHeight: 14, itemGap: 4.8, icon: "circle", selectedMode: false, padding: 0, textStyle: { fontFamily: FONT, fontSize: 20, color: "#222" } },
      cellLegend(legendCol1, 651.7, 3),
      cellLegend(legendCol2, 736, 2.5),
      cellLegend(legendCol3, 821.7, 2.5),
      cellLegend(legendCol4, 912.3, 3),
    ],
    grid: [
      { left: 426, top: 31.7, width: 288, height: 371, containLabel: false },
      { left: 208.4, top: 485.45, width: 421.6, height: 518.1, show: true, backgroundColor: "#EBEBEB", borderWidth: 0 },
      { left: 212.5, top: 485.45, width: 413, height: 518.1 },
    ],
    xAxis: [
      {
        gridIndex: 0, type: "value", min: -5.92, max: 7.35,
        name: "UMAP_1", nameLocation: "middle", nameGap: 33, nameTextStyle: { fontFamily: FONT, fontSize: 22, color: "#222" },
        axisLine: { onZero: false, lineStyle: { color: "#111", width: 2 } },
        axisTick: { customValues: umapXTicks, length: 4, lineStyle: { color: "#111", width: 1.5 } },
        axisLabel: { customValues: umapXTicks, formatter: (v: number) => v.toFixed(1).replace("-", "\u2212"), fontFamily: FONT, fontSize: 18, color: "#222", margin: 8 },
        splitLine: { show: false },
      },
      {
        gridIndex: 1, type: "value", min: -0.62, max: 11.63,
        name: "Neighborhood", nameLocation: "middle", nameGap: 19, nameTextStyle: { fontFamily: FONT, fontSize: 14, color: "#111", padding: [0, 42, 0, 0] },
        axisLine: { show: false },
        axisTick: { customValues: neighborTicks, length: 3.5, lineStyle: { color: "#333", width: 1.5 } },
        axisLabel: { customValues: neighborTicks, formatter: (v: number) => String(v), fontFamily: FONT, fontSize: 11.3, color: "#666", margin: 5, showMinLabel: true, showMaxLabel: true },
        splitLine: { show: true, customValues: neighborTicks, lineStyle: { color: "#fff", width: 1.2 } },
      },
      { gridIndex: 2, type: "category", data: neighborhoods, show: false, boundaryGap: true },
    ],
    yAxis: [
      {
        gridIndex: 0, type: "value", min: -6.286, max: 5.9,
        name: "UMAP_2", nameLocation: "middle", nameGap: 41, nameTextStyle: { fontFamily: FONT, fontSize: 22, color: "#222" },
        axisLine: { onZero: false, lineStyle: { color: "#111", width: 2 } },
        axisTick: { customValues: umapYTicks, length: 4, lineStyle: { color: "#111", width: 1.5 } },
        axisLabel: { customValues: umapYTicks, formatter: (v: number) => String(v).replace("-", "\u2212"), fontFamily: FONT, fontSize: 18, color: "#222", margin: 8 },
        splitLine: { show: false },
      },
      {
        gridIndex: 1, type: "value", min: -0.05, max: 1.05,
        name: "Proportion", nameLocation: "middle", nameGap: 34, nameTextStyle: { fontFamily: FONT, fontSize: 14, color: "#111" },
        axisLine: { show: false },
        axisTick: { customValues: propTicks, length: 3.5, lineStyle: { color: "#333", width: 1.5 } },
        axisLabel: { customValues: propTicks, formatter: (v: number) => v.toFixed(2), fontFamily: FONT, fontSize: 11.3, color: "#666", margin: 6 },
        splitLine: { show: true, customValues: propTicks, lineStyle: { color: "#fff", width: 1.2 } },
      },
      {
        gridIndex: 1, type: "value", min: -0.05, max: 1.05, position: "right",
        axisLine: { show: false },
        axisTick: { show: false, customValues: propMinor },
        axisLabel: { show: false },
        splitLine: { show: true, customValues: propMinor, lineStyle: { color: "#fff", width: 0.6 } },
      },
      { gridIndex: 2, type: "value", min: -0.05, max: 1.05, show: false, splitLine: { show: false } },
    ],
    series: [
      ...barSeries,
      ...scatterSeries,
      {
        type: "scatter", name: "cluster labels", xAxisIndex: 0, yAxisIndex: 0, data: clusterLabelPoints,
        symbolSize: 1, itemStyle: { color: "transparent" }, z: 4,
        label: { show: true, position: "inside", formatter: "{b}", fontFamily: FONT, fontSize: 18, color: "#000", textBorderWidth: 0, textBorderColor: "transparent" },
      },
    ],
  };
}

export default function App() {
  const ref = useRef<HTMLDivElement>(null);
  useEffect(() => {
    const chart = echarts.init(ref.current as HTMLDivElement, undefined, { renderer: "svg" });
    chart.setOption(buildOption() as any);
    return () => chart.dispose();
  }, []);
  return <div ref={ref} style={{ position: "absolute", left: 0, top: 0, width: 1159, height: 1268 }} />;
}
